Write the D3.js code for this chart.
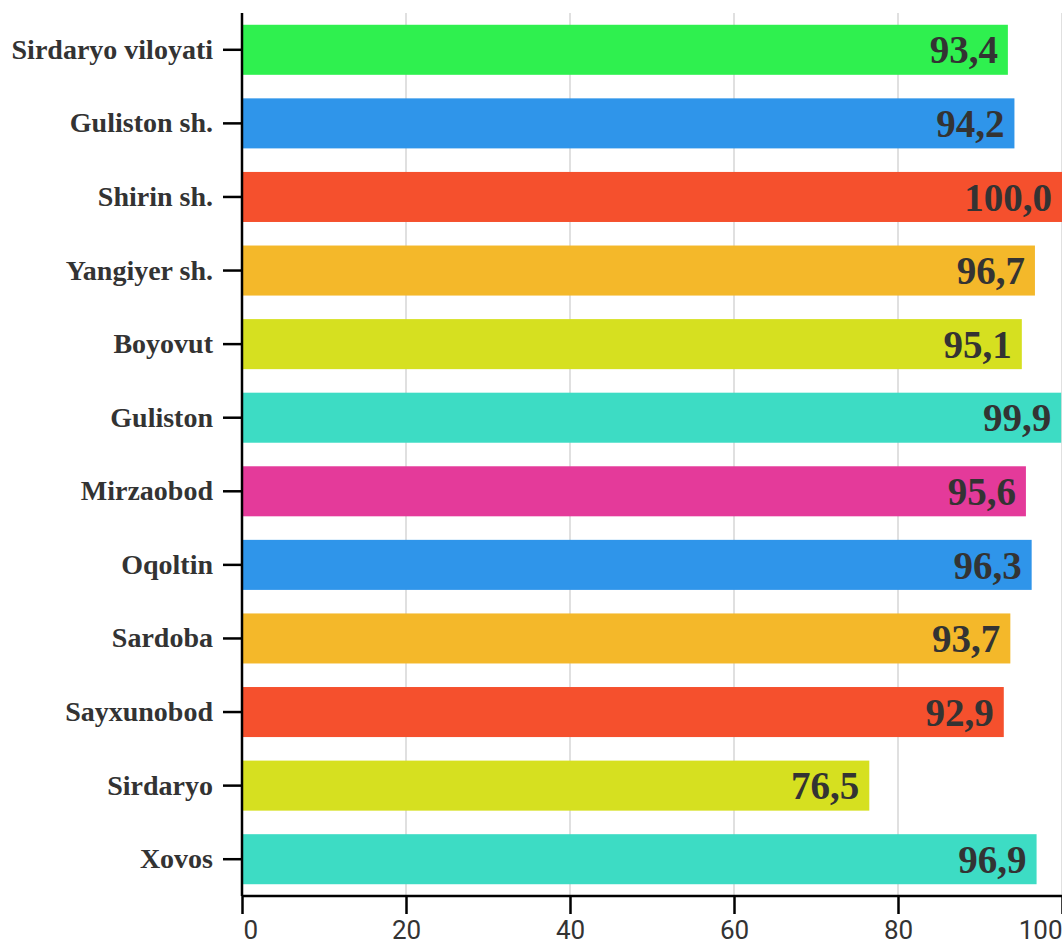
<!DOCTYPE html>
<html><head><meta charset="utf-8">
<script src="https://cdn.jsdelivr.net/npm/d3@7"></script>
<style>
html,body{margin:0;padding:0;background:#fff;}
svg{display:block;}
</style></head>
<body>
<svg id="chart" width="1062" height="941"></svg>
<script>
const categories = ["Sirdaryo viloyati","Guliston sh.","Shirin sh.","Yangiyer sh.","Boyovut","Guliston","Mirzaobod","Oqoltin","Sardoba","Sayxunobod","Sirdaryo","Xovos"];
const values = [93.4, 94.2, 100.0, 96.7, 95.1, 99.9, 95.6, 96.3, 93.7, 92.9, 76.5, 96.9];
const colors = ["#2ff04f","#2f95ea","#f5502d","#f4b82a","#d6e020","#3ddcc4","#e43a9a","#2f95ea","#f4b82a","#f5502d","#d6e020","#3ddcc4"];
const xTicks = [0, 20, 40, 60, 80, 100];

const svg = d3.select("#chart");
const x = d3.scaleLinear().domain([0, 100]).range([242, 1062]);
const y = d3.scaleBand().domain(categories).range([13, 896]).paddingInner(0.32).paddingOuter(0.16);

// grid
svg.append("g").selectAll("line").data(xTicks.slice(1)).join("line")
  .attr("x1", d => x(d)).attr("x2", d => x(d))
  .attr("y1", 13).attr("y2", 896)
  .attr("stroke", "#e0e0e0").attr("stroke-width", 2);

// bars
svg.append("g").selectAll("rect").data(categories).join("rect")
  .attr("x", x(0)).attr("y", d => y(d))
  .attr("width", (d, i) => x(values[i]) - x(0))
  .attr("height", y.bandwidth())
  .attr("fill", (d, i) => colors[i]);

// value labels
svg.append("g").selectAll("text").data(categories).join("text")
  .attr("x", (d, i) => x(values[i]) - 10)
  .attr("y", d => y(d) + y.bandwidth() / 2)
  .attr("dy", "0.35em")
  .attr("text-anchor", "end")
  .attr("font-family", "'Liberation Serif', 'Times New Roman', serif")
  .attr("font-weight", "bold")
  .attr("font-size", 39)
  .attr("fill", "#333")
  .text((d, i) => values[i].toFixed(1).replace(".", ","));

// y axis
const yAxis = svg.append("g").attr("transform", `translate(${x(0)},0)`)
  .call(d3.axisLeft(y).tickSize(19).tickPadding(10));
yAxis.select(".domain").attr("stroke", "#000").attr("stroke-width", 2.5).attr("d", "M0,13V896");
yAxis.selectAll(".tick line").attr("stroke", "#000").attr("stroke-width", 2.5);
yAxis.selectAll(".tick text")
  .attr("font-family", "'Liberation Serif', 'Times New Roman', serif")
  .attr("font-weight", "bold").attr("font-size", 28).attr("fill", "#333");

// x axis
const xAxis = svg.append("g").attr("transform", "translate(0,896)")
  .call(d3.axisBottom(x).tickValues(xTicks).tickSize(18).tickPadding(7).tickFormat(d3.format("d")));
xAxis.select(".domain").attr("stroke", "#000").attr("stroke-width", 2.5).attr("d", "M242,0H1062");
xAxis.selectAll(".tick line").attr("stroke", "#000").attr("stroke-width", 2.5);
xAxis.selectAll(".tick text")
  .attr("font-family", "'Liberation Sans Narrow', 'Roboto', sans-serif")
  .attr("font-size", 26).attr("fill", "#333")
  .attr("text-anchor", (d, i) => i === 0 ? "start" : (i === xTicks.length - 1 ? "end" : "middle"))
  .attr("x", (d, i) => i === 0 ? 1 : 0);
</script>
</body></html>
